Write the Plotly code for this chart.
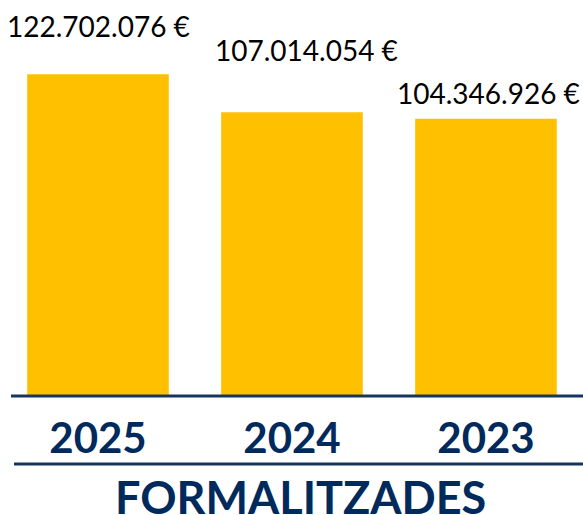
import plotly.graph_objects as go

years = ["2025", "2024", "2023"]
amounts = [122702076, 107014054, 104346926]
title_text = "FORMALITZADES"

# axis bounds (the original chart does not start its bars at zero)
y_min = -9830000
y_max = 153250000

bar_color = "#FFC000"
navy = "#002A5C"
line_color = "#17365E"

def fmt(v):
    return f"{v:,}".replace(",", ".") + " €"

fig = go.Figure()
fig.add_trace(go.Bar(
    x=years,
    y=[a - y_min for a in amounts],
    base=y_min,
    marker_color=bar_color,
    marker_line_width=0,
    hoverinfo="skip",
))

# labels were nudged by hand in the original
shifts = [(0, 29), (14, 43), (2, 7)]
for i, a in enumerate(amounts):
    dx, dy = shifts[i]
    fig.add_annotation(
        x=i, y=a, text=fmt(a), showarrow=False,
        yanchor="bottom", xshift=dx, yshift=dy,
        font=dict(family="Lato", size=28, color="#000000"),
    )

# axis line and line above title
fig.add_shape(type="line", xref="paper", yref="paper",
              x0=10 / 582, x1=1, y0=0, y1=0,
              line=dict(color=line_color, width=3))
fig.add_shape(type="line", xref="paper", yref="paper",
              x0=13 / 582, x1=1, y0=-68 / 396, y1=-68 / 396,
              line=dict(color=line_color, width=3))

fig.add_annotation(
    x=300 / 582, y=-101 / 396, xref="paper", yref="paper",
    text="<b>" + title_text + "</b>", showarrow=False,
    xanchor="center", yanchor="middle",
    font=dict(family="Lato", size=45, color=navy),
)

fig.update_layout(
    width=583, height=515,
    margin=dict(l=1, r=0, t=0, b=119),
    paper_bgcolor="white", plot_bgcolor="white",
    bargap=0.27, showlegend=False,
    xaxis=dict(
        type="category", automargin=False, range=[-0.5, 2.5],
        showgrid=False, zeroline=False, showline=False,
        ticks="outside", ticklen=6, tickcolor="rgba(0,0,0,0)",
        tickfont=dict(family="Lato", size=42, color=navy, weight="bold"),
    ),
    yaxis=dict(
        range=[y_min, y_max], automargin=False,
        showgrid=False, zeroline=False, showticklabels=False,
    ),
)

fig.write_html("out.html", config={"displayModeBar": False},
               post_script="document.body.style.margin='0';")
